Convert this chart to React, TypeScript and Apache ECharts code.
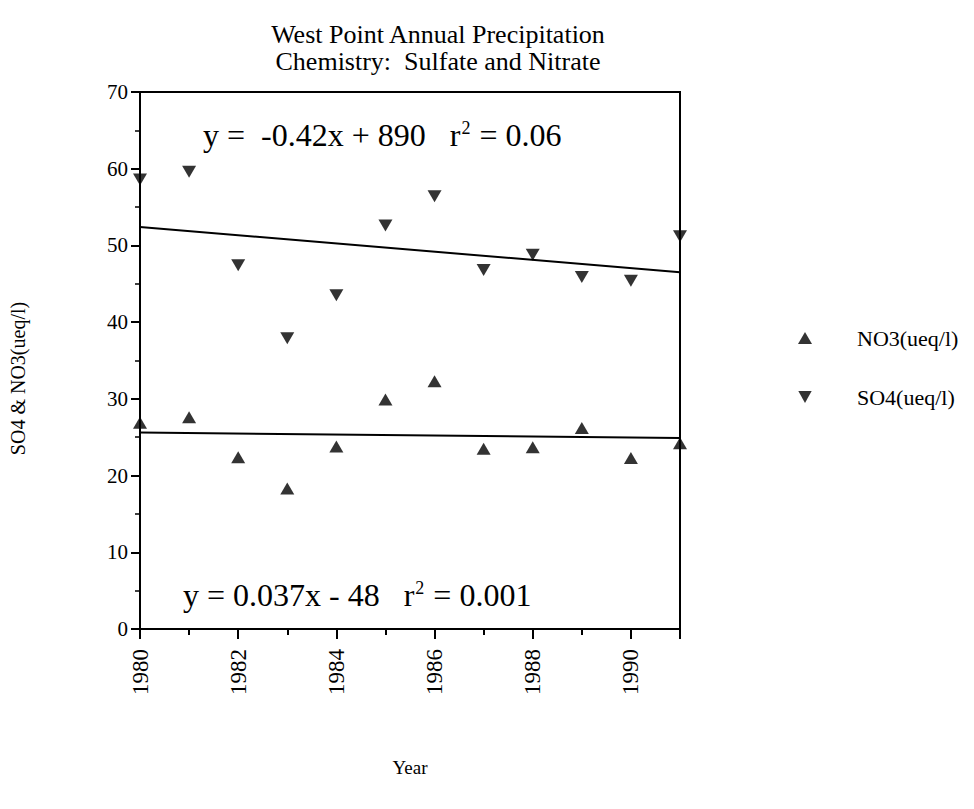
import React, { useEffect, useRef } from "react";
import * as echarts from "echarts";

const years = [1980, 1981, 1982, 1983, 1984, 1985, 1986, 1987, 1988, 1989, 1990, 1991];
const no3 = [26.9, 27.6, 22.4, 18.3, 23.8, 29.9, 32.3, 23.5, 23.7, 26.2, 22.3, 24.2];
const so4 = [58.6, 59.6, 47.4, 37.9, 43.5, 52.6, 56.4, 46.8, 48.8, 45.9, 45.4, 51.2];
const trendYears = [1980, 1991];
const so4Trend = [52.4, 46.5];
const no3Trend = [25.6, 24.9];
const yTicks = { min: 0, max: 70, interval: 10 };
const xTicks = { min: 1980, max: 1991, interval: 2 };

const FONT = "'Liberation Serif', 'Times New Roman', serif";
const DOWN = "path://M0,0 L10,0 L5,9 Z";

export default function App() {
  const ref = useRef<HTMLDivElement>(null);
  useEffect(() => {
    if (!ref.current) return;
    const chart = echarts.init(ref.current, undefined, { renderer: "svg" });
    const eqRich = {
      a: { fontFamily: FONT, fontSize: 32, fill: "#000" },
      s: { fontFamily: FONT, fontSize: 18, fill: "#000", verticalAlign: "top", padding: [0, 1, 14, 1] },
    };
    chart.setOption({
      animation: false,
      backgroundColor: "#fff",
      title: {
        text: "West Point Annual Precipitation\nChemistry:  Sulfate and Nitrate",
        left: 433,
        top: 16,
        textAlign: "center",
        textStyle: { fontFamily: FONT, fontSize: 26, fontWeight: "normal", color: "#000", lineHeight: 27 },
      },
      legend: {
        orient: "vertical",
        left: 793,
        top: 322,
        itemGap: 37,
        itemWidth: 14,
        itemHeight: 12,
        data: [
          { name: "NO3(ueq/l)", icon: "triangle" },
          { name: "SO4(ueq/l)", icon: DOWN },
        ],
        textStyle: { fontFamily: FONT, fontSize: 22, color: "#000", padding: [0, 0, 0, 40] },
      },
      grid: {
        left: 138,
        top: 92,
        width: 542,
        height: 537,
        show: true,
        borderColor: "#000",
        borderWidth: 2,
      },
      xAxis: {
        type: "value",
        min: xTicks.min,
        max: xTicks.max,
        interval: xTicks.interval,
        name: "Year",
        nameLocation: "middle",
        nameGap: 129,
        nameTextStyle: { fontFamily: FONT, fontSize: 19, color: "#000" },
        axisLine: { show: true, onZero: false, lineStyle: { color: "#000", width: 2 } },
        axisTick: { show: true, inside: false, length: 10, lineStyle: { color: "#000", width: 2 } },
        minorTick: { show: true, splitNumber: 2, length: 6, lineStyle: { color: "#000", width: 2 } },
        splitLine: { show: false },
        axisLabel: {
          rotate: 90,
          margin: 20,
          fontFamily: FONT,
          fontSize: 23,
          color: "#000",
          showMaxLabel: false,
          formatter: (v: number) => String(v),
        },
      },
      yAxis: {
        type: "value",
        min: yTicks.min,
        max: yTicks.max,
        interval: yTicks.interval,
        name: "SO4 & NO3(ueq/l)",
        nameLocation: "middle",
        nameGap: 112,
        nameTextStyle: { fontFamily: FONT, fontSize: 20, color: "#000", padding: [0, 36, 0, 0] },
        axisLine: { show: true, lineStyle: { color: "#000", width: 2 } },
        axisTick: { show: true, inside: false, length: 9, lineStyle: { color: "#000", width: 2 } },
        minorTick: { show: true, splitNumber: 2, length: 5, lineStyle: { color: "#000", width: 1.5 } },
        splitLine: { show: false },
        axisLabel: { margin: 12, fontFamily: FONT, fontSize: 21, color: "#000" },
      },
      graphic: [
        {
          type: "text",
          left: 203,
          top: 119,
          style: { text: "{a|y =  -0.42x + 890   r}{s|2}{a| = 0.06}", rich: eqRich },
        },
        {
          type: "text",
          left: 183,
          top: 579,
          style: { text: "{a|y = 0.037x - 48   r}{s|2}{a| = 0.001}", rich: eqRich },
        },
      ],
      series: [
        {
          name: "NO3(ueq/l)",
          type: "scatter",
          symbol: "triangle",
          symbolSize: [14, 12],
          clip: false,
          itemStyle: { color: "#000" },
          data: years.map((y, i) => [y, no3[i]]),
          z: 5,
        },
        {
          name: "SO4(ueq/l)",
          type: "scatter",
          symbol: DOWN,
          symbolSize: [14, 12],
          clip: false,
          itemStyle: { color: "#000" },
          data: years.map((y, i) => [y, so4[i]]),
          z: 5,
        },
        {
          name: "SO4 trend",
          type: "line",
          symbol: "none",
          lineStyle: { color: "#000", width: 2 },
          data: trendYears.map((y, i) => [y, so4Trend[i]]),
        },
        {
          name: "NO3 trend",
          type: "line",
          symbol: "none",
          lineStyle: { color: "#000", width: 2 },
          data: trendYears.map((y, i) => [y, no3Trend[i]]),
        },
      ],
    });
    return () => chart.dispose();
  }, []);
  return (
    <div
      ref={ref}
      style={{ position: "fixed", left: 0, top: 0, width: 974, height: 809, background: "#fff" }}
    />
  );
}
